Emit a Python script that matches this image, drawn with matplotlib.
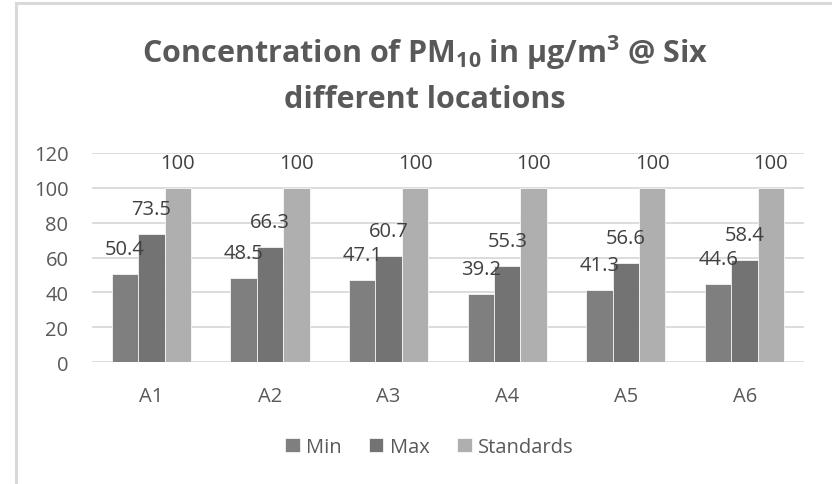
import numpy as np
import matplotlib
matplotlib.use("Agg")
import matplotlib.pyplot as plt
from matplotlib.patches import Rectangle

plt.rcParams['font.family'] = ['Open Sans', 'DejaVu Sans']
plt.rcParams['mathtext.fontset'] = 'custom'
plt.rcParams['mathtext.rm'] = 'Open Sans:bold'

locations = ['A1', 'A2', 'A3', 'A4', 'A5', 'A6']
pm_min = [50.4, 48.5, 47.1, 39.2, 41.3, 44.6]
pm_max = [73.5, 66.3, 60.7, 55.3, 56.6, 58.4]
standards = [100, 100, 100, 100, 100, 100]

series = [('Min', pm_min, '#7f7f7f'),
          ('Max', pm_max, '#737373'),
          ('Standards', standards, '#afafaf')]

fig = plt.figure(figsize=(8.32, 4.85), dpi=100)
ax = fig.add_axes([0.1106, 0.2515, 0.8557, 0.431])

# light chart frame
fig.patches.append(Rectangle((15.5 / 832, -0.1), 1.2, 1 - 3.5 / 485 + 0.1,
                             transform=fig.transFigure, fill=False,
                             edgecolor='#d9d9d9', linewidth=2.2, zorder=0))

x = np.arange(len(locations))
w = 0.222
for i, (name, vals, col) in enumerate(series):
    pos = x + (i - 1) * w
    ax.bar(pos, vals, w, color=col, edgecolor='white', linewidth=0.5,
           label=name, zorder=3)
    for xb, v in zip(pos, vals):
        ax.annotate(f'{v:g}', (xb, v), xytext=(0, 18), textcoords='offset points',
                    ha='center', va='center', fontsize=14.5, color='#404040', zorder=4)

ax.set_xlim(-0.5, len(locations) - 0.5)
ax.set_ylim(0, 120)
ax.set_yticks(range(0, 121, 20))
ax.set_xticks(x)
ax.set_xticklabels(locations)
ax.grid(axis='y', color='#d9d9d9', linewidth=1.3, zorder=0)
ax.set_axisbelow(True)
for s in ax.spines.values():
    s.set_visible(False)
ax.tick_params(axis='both', length=0, labelsize=14.5, labelcolor='#595959')
ax.tick_params(axis='y', pad=17)
ax.tick_params(axis='x', pad=17)

fig.text(0.511, 0.870, r'Concentration of PM$\mathregular{_{10}}$ in µg/m$\mathregular{^3}$ @ Six',
         ha='center', va='baseline', fontsize=22, fontweight='bold', color='#595959')
fig.text(0.511, 0.777, 'different locations', ha='center', va='baseline',
         fontsize=22, fontweight='bold', color='#595959')

fig.legend(loc='center', bbox_to_anchor=(0.516, 0.076), ncol=3, frameon=False,
           fontsize=14.5, handlelength=0.7, handleheight=0.7, handletextpad=0.3,
           columnspacing=1.4, labelcolor='#595959')

fig.savefig('out.png', dpi=100)
